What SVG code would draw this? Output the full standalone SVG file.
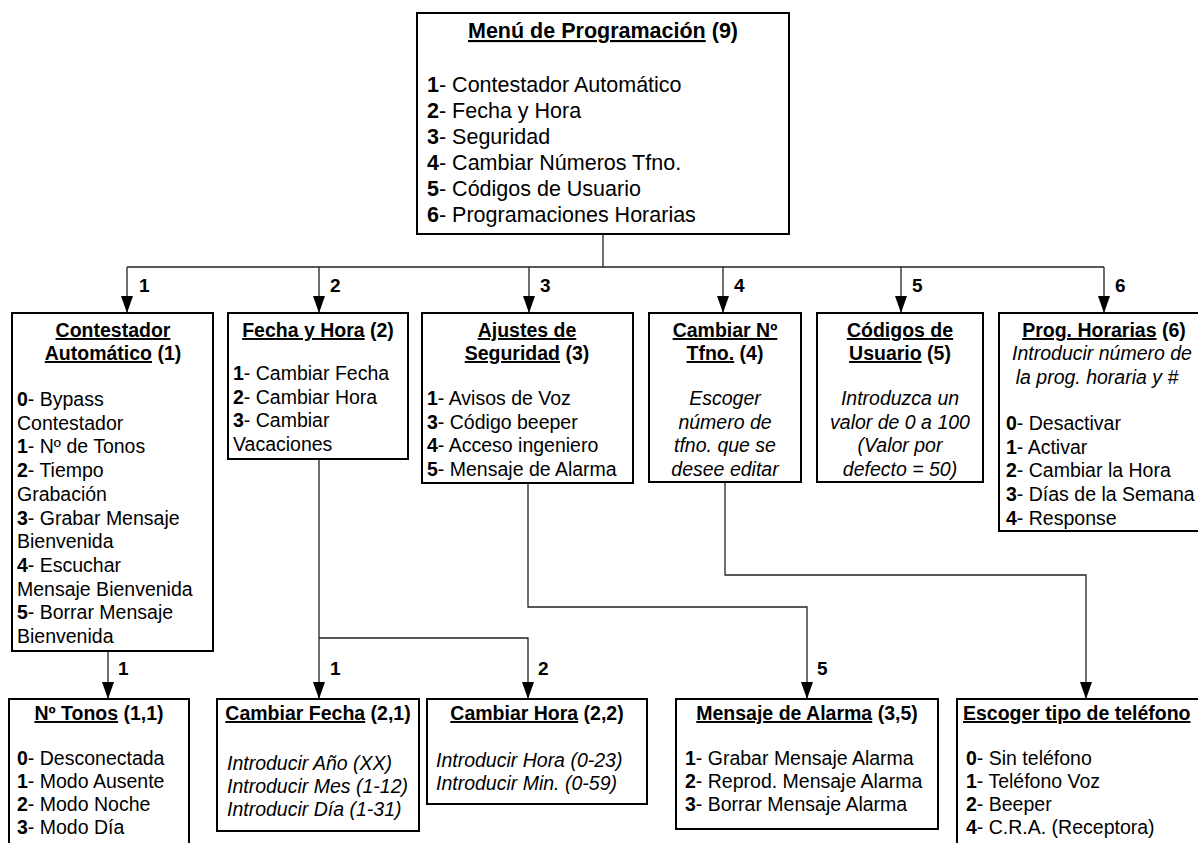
<svg xmlns="http://www.w3.org/2000/svg" width="1198" height="843" viewBox="0 0 1198 843">
<style>
.box{fill:#fff;stroke:#000;stroke-width:2}
text{font-family:"Liberation Sans",Arial,sans-serif;font-size:19.5px;fill:#000}
.big{font-size:21.5px}
.b{font-weight:bold}
.u{text-decoration:underline}
.i{font-style:italic}
.c{text-anchor:middle}
.lbl{font-weight:bold;font-size:19px}
.conn{stroke:#222;stroke-width:1.3;fill:none}
</style>
<defs>
<marker id="ah" viewBox="0 0 17 12" refX="17" refY="6" markerWidth="17" markerHeight="12" markerUnits="userSpaceOnUse" orient="auto">
<path d="M0,0 L17,6 L0,12 Z" fill="#000"/>
</marker>
</defs>
<rect width="1198" height="843" fill="#fff"/>

<g id="connectors">
<path class="conn" d="M603,234 V267 M127,267 H1104"/>
<path class="conn" d="M127,267 V313" marker-end="url(#ah)"/>
<path class="conn" d="M319,267 V313" marker-end="url(#ah)"/>
<path class="conn" d="M529,267 V313" marker-end="url(#ah)"/>
<path class="conn" d="M723,267 V313" marker-end="url(#ah)"/>
<path class="conn" d="M901,267 V313" marker-end="url(#ah)"/>
<path class="conn" d="M1104,267 V313" marker-end="url(#ah)"/>
<path class="conn" d="M108,651 V699" marker-end="url(#ah)"/>
<path class="conn" d="M319,459 V699" marker-end="url(#ah)"/>
<path class="conn" d="M319,638 H528 V699" marker-end="url(#ah)"/>
<path class="conn" d="M528,483 V607 H807 V699" marker-end="url(#ah)"/>
<path class="conn" d="M725,482 V575 H1086 V699" marker-end="url(#ah)"/>
<text class="lbl" x="139" y="292">1</text>
<text class="lbl" x="330" y="292">2</text>
<text class="lbl" x="540" y="292">3</text>
<text class="lbl" x="734" y="292">4</text>
<text class="lbl" x="912" y="292">5</text>
<text class="lbl" x="1115" y="292">6</text>
<text class="lbl" x="118" y="675">1</text>
<text class="lbl" x="330" y="675">1</text>
<text class="lbl" x="538" y="675">2</text>
<text class="lbl" x="817" y="675">5</text>
</g>

<g id="menu">
<rect class="box" x="417" y="13" width="372" height="221"/>
<text class="big b c" x="603" y="38"><tspan class="u">Menú de Programación</tspan> (9)</text>
<text class="big" x="427" y="92"><tspan class="b">1</tspan>- Contestador Automático</text>
<text class="big" x="427" y="118"><tspan class="b">2</tspan>- Fecha y Hora</text>
<text class="big" x="427" y="144"><tspan class="b">3</tspan>- Seguridad</text>
<text class="big" x="427" y="170"><tspan class="b">4</tspan>- Cambiar Números Tfno.</text>
<text class="big" x="427" y="196"><tspan class="b">5</tspan>- Códigos de Usuario</text>
<text class="big" x="427" y="222"><tspan class="b">6</tspan>- Programaciones Horarias</text>
</g>

<g id="contestador">
<rect class="box" x="12" y="313" width="201" height="338"/>
<text class="b c" x="113" y="337"><tspan class="u">Contestador</tspan></text>
<text class="b c" x="113" y="360"><tspan class="u">Automático</tspan> (1)</text>
<text x="17" y="406"><tspan class="b">0</tspan>- Bypass</text>
<text x="17" y="429.7">Contestador</text>
<text x="17" y="453.4"><tspan class="b">1</tspan>- Nº de Tonos</text>
<text x="17" y="477.1"><tspan class="b">2</tspan>- Tiempo</text>
<text x="17" y="500.8">Grabación</text>
<text x="17" y="524.5"><tspan class="b">3</tspan>- Grabar Mensaje</text>
<text x="17" y="548.2">Bienvenida</text>
<text x="17" y="571.9"><tspan class="b">4</tspan>- Escuchar</text>
<text x="17" y="595.6">Mensaje Bienvenida</text>
<text x="17" y="619.3"><tspan class="b">5</tspan>- Borrar Mensaje</text>
<text x="17" y="643">Bienvenida</text>
</g>

<g id="fecha-hora">
<rect class="box" x="228" y="313" width="180" height="146"/>
<text class="b c" x="318" y="337"><tspan class="u">Fecha y Hora</tspan> (2)</text>
<text x="233" y="380"><tspan class="b">1</tspan>- Cambiar Fecha</text>
<text x="233" y="403.7"><tspan class="b">2</tspan>- Cambiar Hora</text>
<text x="233" y="427.4"><tspan class="b">3</tspan>- Cambiar</text>
<text x="233" y="451.1">Vacaciones</text>
</g>

<g id="seguridad">
<rect class="box" x="422" y="313" width="211" height="170"/>
<text class="b c" x="527" y="337"><tspan class="u">Ajustes de</tspan></text>
<text class="b c" x="527" y="360"><tspan class="u">Seguridad</tspan> (3)</text>
<text x="427" y="405"><tspan class="b">1</tspan>- Avisos de Voz</text>
<text x="427" y="428.7"><tspan class="b">3</tspan>- Código beeper</text>
<text x="427" y="452.4"><tspan class="b">4</tspan>- Acceso ingeniero</text>
<text x="427" y="476.1"><tspan class="b">5</tspan>- Mensaje de Alarma</text>
</g>

<g id="cambiar-tfno">
<rect class="box" x="649" y="313" width="152" height="169"/>
<text class="b c" x="725" y="337"><tspan class="u">Cambiar Nº</tspan></text>
<text class="b c" x="725" y="360"><tspan class="u">Tfno.</tspan> (4)</text>
<text class="i c" x="725" y="405">Escoger</text>
<text class="i c" x="725" y="428.7">número de</text>
<text class="i c" x="725" y="452.4">tfno. que se</text>
<text class="i c" x="725" y="476.1">desee editar</text>
</g>

<g id="codigos">
<rect class="box" x="817" y="313" width="166" height="169"/>
<text class="b c" x="900" y="337"><tspan class="u">Códigos de</tspan></text>
<text class="b c" x="900" y="360"><tspan class="u">Usuario</tspan> (5)</text>
<text class="i c" x="900" y="405">Introduzca un</text>
<text class="i c" x="900" y="428.7">valor de 0 a 100</text>
<text class="i c" x="900" y="452.4">(Valor por</text>
<text class="i c" x="900" y="476.1">defecto = 50)</text>
</g>

<g id="prog-horarias">
<rect class="box" x="999" y="313" width="210" height="218"/>
<text class="b c" x="1104" y="337"><tspan class="u">Prog. Horarias</tspan> (6)</text>
<text class="i c" x="1102" y="360">Introducir número de</text>
<text class="i c" x="1097" y="383.7">la prog. horaria y #</text>
<text x="1006" y="430"><tspan class="b">0</tspan>- Desactivar</text>
<text x="1006" y="453.7"><tspan class="b">1</tspan>- Activar</text>
<text x="1006" y="477.4"><tspan class="b">2</tspan>- Cambiar la Hora</text>
<text x="1006" y="501.1"><tspan class="b">3</tspan>- Días de la Semana</text>
<text x="1006" y="524.8"><tspan class="b">4</tspan>- Response</text>
</g>

<g id="n-tonos">
<rect class="box" x="9" y="699" width="180" height="160"/>
<text class="b c" x="99" y="720"><tspan class="u">Nº Tonos</tspan> (1,1)</text>
<text x="17" y="765"><tspan class="b">0</tspan>- Desconectada</text>
<text x="17" y="788"><tspan class="b">1</tspan>- Modo Ausente</text>
<text x="17" y="811"><tspan class="b">2</tspan>- Modo Noche</text>
<text x="17" y="834"><tspan class="b">3</tspan>- Modo Día</text>
</g>

<g id="cambiar-fecha">
<rect class="box" x="217" y="699" width="202" height="132"/>
<text class="b c" x="318" y="720"><tspan class="u">Cambiar Fecha</tspan> (2,1)</text>
<text class="i" x="227" y="770">Introducir Año (XX)</text>
<text class="i" x="227" y="793">Introducir Mes (1-12)</text>
<text class="i" x="227" y="816">Introducir Día (1-31)</text>
</g>

<g id="cambiar-hora">
<rect class="box" x="427" y="699" width="220" height="105"/>
<text class="b c" x="537" y="720"><tspan class="u">Cambiar Hora</tspan> (2,2)</text>
<text class="i" x="436" y="767">Introducir Hora (0-23)</text>
<text class="i" x="436" y="790">Introducir Min. (0-59)</text>
</g>

<g id="mensaje-alarma">
<rect class="box" x="676" y="699" width="262" height="130"/>
<text class="b c" x="807" y="720"><tspan class="u">Mensaje de Alarma</tspan> (3,5)</text>
<text x="685" y="765"><tspan class="b">1</tspan>- Grabar Mensaje Alarma</text>
<text x="685" y="788"><tspan class="b">2</tspan>- Reprod. Mensaje Alarma</text>
<text x="685" y="811"><tspan class="b">3</tspan>- Borrar Mensaje Alarma</text>
</g>

<g id="tipo-telefono">
<rect class="box" x="957" y="699" width="260" height="160"/>
<text class="b" x="963" y="720"><tspan class="u">Escoger tipo de teléfono</tspan></text>
<text x="966" y="765"><tspan class="b">0</tspan>- Sin teléfono</text>
<text x="966" y="788"><tspan class="b">1</tspan>- Teléfono Voz</text>
<text x="966" y="811"><tspan class="b">2</tspan>- Beeper</text>
<text x="966" y="834"><tspan class="b">4</tspan>- C.R.A. (Receptora)</text>
</g>
</svg>
